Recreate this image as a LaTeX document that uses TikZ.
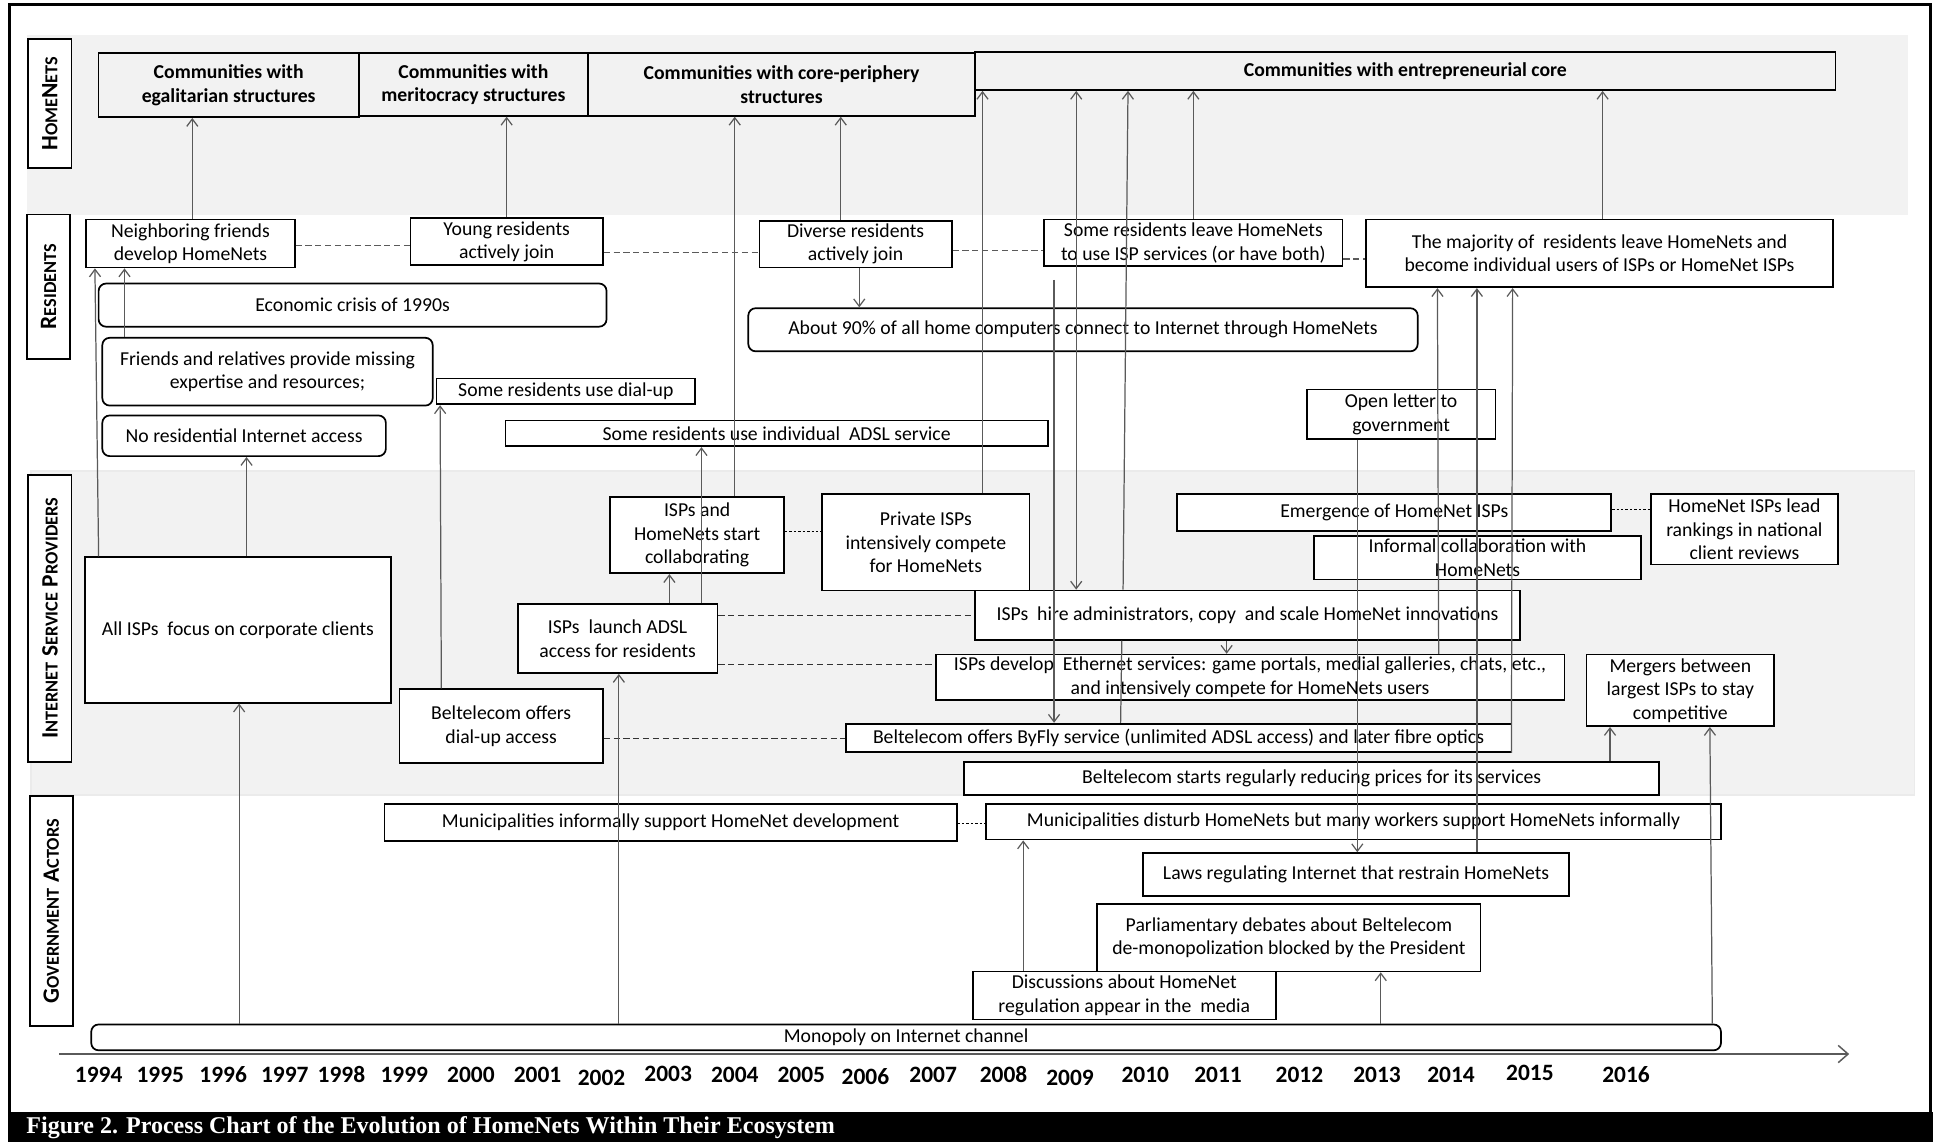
\documentclass[tikz,border=0pt]{standalone}
\usepackage{fontspec}
\setmainfont{Carlito}
\newfontfamily\capfont{Liberation Serif}
\usetikzlibrary{arrows.meta}
\definecolor{bandgray}{HTML}{F2F2F2}
\definecolor{linegray}{HTML}{5A5A5A}
\newcommand{\bx}[7][]{\node[boxbase,#1,minimum width={(#5-#3)*0.5pt},minimum height={(#6-#4)*0.5pt}] (#2) at ({(#3+#5)/2},{(#4+#6)/2}) {#7};}
\newcommand{\vc}[5][arr]{\coordinate (ca) at (#2,0);\coordinate (cb) at (#4,0);\draw[#1] (#3 -| ca) -- (#5 -| cb);}
\newcommand{\hc}[4][dsh]{\coordinate (cy) at (0,#2);\draw[#1] (#3 |- cy) -- (#4 |- cy);}
\newcommand{\Bg}[1]{{\fontsize{9.5}{10}\selectfont #1}}
\newcommand{\Sm}[1]{{\fontsize{7.4}{8}\selectfont #1}}
\begin{document}
\begin{tikzpicture}[x=0.5pt,y=-0.5pt,
  boxbase/.style={draw=black,fill=white,line width=0.7pt,inner sep=0pt,align=center,font=\fontsize{8}{9.5}\selectfont},
  head/.style={fill=bandgray,font=\bfseries\fontsize{8}{9.5}\selectfont},
  rnd/.style={rounded corners=3pt},
  lab/.style={draw=black,fill=white,line width=0.8pt,inner sep=0pt,rotate=90,font=\bfseries},
  arr/.style={draw=linegray,line width=0.5pt,-{Straight Barb[length=3pt,width=4.5pt]}},
  barr/.style={draw=linegray,line width=0.5pt,{Straight Barb[length=3pt,width=4.5pt]}-{Straight Barb[length=3pt,width=4.5pt]}},
  ln/.style={draw=linegray,line width=0.5pt},
  dsh/.style={draw=linegray,line width=0.6pt,dash pattern=on 2.5pt off 1.5pt},
  kdsh/.style={draw=black!80,line width=0.45pt,dash pattern=on 2.5pt off 1.5pt},
  fdsh/.style={draw=black,line width=0.4pt,dash pattern=on 1pt off 0.8pt},
  year/.style={font=\bfseries\fontsize{9.5}{10}\selectfont,inner sep=0pt}]
\useasboundingbox (0,0) rectangle (1568,926);
\fill[white] (0,0) rectangle (1568,926);
% bands
\fill[bandgray] (22,28) rectangle (1548,174);
\fill[bandgray] (25,382) rectangle (1553,645);
\draw[black!8,line width=0.6pt] (25,382) rectangle (1553,645);
% frame and caption
\draw[line width=1.2pt] (8,926) -- (8,4) -- (1566,4) -- (1566,926);
\fill[black] (8,902) rectangle (1568,926);
\node[anchor=west,text=white,inner sep=0pt,font=\capfont\bfseries\fontsize{9.75}{12}\selectfont] (cap) at (21,915) {Figure 2. Process Chart of the Evolution of HomeNets Within Their Ecosystem};
% lane labels
\node[lab,minimum width={(136-32)*0.5pt},minimum height={(58-23)*0.5pt}] (lhn) at (40.5,84) {\Bg{H}\Sm{OME}\Bg{N}\Sm{ETS}};
\node[lab,minimum width={(291-174)*0.5pt},minimum height={(57-22)*0.5pt}] (lres) at (39.5,232.5) {\Bg{R}\Sm{ESIDENTS}};
\node[lab,minimum width={(618-385)*0.5pt},minimum height={(58-23)*0.5pt}] (lisp) at (40.5,501.5) {\Bg{I}\Sm{NTERNET} \Bg{S}\Sm{ERVICE} \Bg{P}\Sm{ROVIDERS}};
\node[lab,minimum width={(832-646)*0.5pt},minimum height={(59-24)*0.5pt}] (lgov) at (41.5,739) {\Bg{G}\Sm{OVERNMENT} \Bg{A}\Sm{CTORS}};
% axis
\coordinate (axs) at (48,855);
\coordinate (axe) at (1500,855);
\draw[arr,line width=0.6pt,-{Straight Barb[length=4pt,width=7pt]}] (axs) -- (axe);
% years
\node[year] (y1994) at (80,872) {1994};
\node[year] (y1995) at (130,872) {1995};
\node[year] (y1996) at (181,872) {1996};
\node[year] (y1997) at (231,872) {1997};
\node[year] (y1998) at (277,872) {1998};
\node[year] (y1999) at (328,872) {1999};
\node[year] (y2000) at (382,872) {2000};
\node[year] (y2001) at (436,872) {2001};
\node[year] (y2002) at (488,874) {2002};
\node[year] (y2003) at (542,871) {2003};
\node[year] (y2004) at (596,872) {2004};
\node[year] (y2005) at (650,872) {2005};
\node[year] (y2006) at (702,873) {2006};
\node[year] (y2007) at (757,872) {2007};
\node[year] (y2008) at (814,872) {2008};
\node[year] (y2009) at (868,874) {2009};
\node[year] (y2010) at (929,872) {2010};
\node[year] (y2011) at (988,872) {2011};
\node[year] (y2012) at (1054,872) {2012};
\node[year] (y2013) at (1117,872) {2013};
\node[year] (y2014) at (1177,872) {2014};
\node[year] (y2015) at (1241,870) {2015};
\node[year] (y2016) at (1319,872) {2016};
% header boxes
\bx[head]{h1}{80}{43}{291}{95}{Communities with\\egalitarian structures}
\bx[head]{h2}{291}{43}{477}{94}{Communities with\\meritocracy structures}
\bx[head]{h3}{477}{43}{791}{94}{Communities with core-periphery\\structures}
\bx[head]{h4}{791}{42}{1489}{73}{Communities with entrepreneurial core}
% residents
\bx{r1}{70}{178}{239}{217}{Neighboring friends\\develop HomeNets}
\bx{r2}{333}{177}{489}{215}{Young residents\\actively join}
\bx{r3}{616}{179}{772}{217}{Diverse residents\\actively join}
\bx{r4}{847}{178}{1089}{216}{Some residents leave HomeNets\\to use ISP services (or have both)}
\bx{r5}{1108}{178}{1487}{233}{The majority of\ \ residents leave HomeNets and\\become individual users of ISPs or HomeNet ISPs}
\bx[rnd]{r6}{80}{230}{492}{265}{Economic crisis of 1990s}
\bx[rnd]{r7}{83}{274}{351}{329}{Friends and relatives provide missing\\expertise and resources;}
\bx{r8}{354}{307}{564}{328}{Some residents use dial-up}
\bx[rnd]{r9}{83}{337}{313}{370}{No residential Internet access}
\bx{r10}{410}{341}{850}{362}{Some residents use individual\ \ ADSL service}
\bx[rnd]{r11}{607}{250}{1150}{285}{About 90\% of all home computers connect to Internet through HomeNets}
\bx{r12}{1060}{316}{1213}{356}{Open letter to\\government}
% ISPs
\bx{i1}{69}{452}{317}{570}{All ISPs\ \ focus on corporate clients}
\bx{i2}{324}{559}{489}{619}{Beltelecom offers\\dial-up access}
\bx{i3}{420}{490}{582}{546}{ISPs\ \ launch ADSL\\access for residents}
\bx{i4}{495}{403}{636}{465}{ISPs and\\HomeNets start\\collaborating}
\bx{i5}{667}{401}{835}{479}{Private ISPs\\intensively compete\\for HomeNets}
\bx{i6}{791}{479}{1233}{519}{ISPs\ \ hire administrators, copy\ \ and scale HomeNet innovations}
\bx{i7}{759}{531}{1269}{568}{ISPs develop\ \ Ethernet services: game portals, medial galleries, chats, etc.,\\and intensively compete for HomeNets users}
\bx{i8}{686}{587}{1226}{610}{Beltelecom offers ByFly service (unlimited ADSL access) and later fibre optics}
\bx{i9}{782}{618}{1346}{645}{Beltelecom starts regularly reducing prices for its services}
\bx{i10}{955}{401}{1307}{431}{Emergence of HomeNet ISPs}
\bx{i11}{1066}{435}{1331}{470}{Informal collaboration with\\HomeNets}
\bx{i12}{1339}{401}{1491}{458}{HomeNet ISPs lead\\rankings in national\\client reviews}
\bx{i13}{1287}{531}{1439}{589}{Mergers between\\largest ISPs to stay\\competitive}
% government
\bx{g1}{312}{652}{776}{682}{Municipalities informally support HomeNet development}
\bx{g2}{800}{652}{1396}{681}{Municipalities disturb HomeNets but many workers support HomeNets informally}
\bx{g3}{927}{692}{1273}{727}{Laws regulating Internet that restrain HomeNets}
\bx{g4}{890}{733}{1201}{788}{Parliamentary debates about Beltelecom\\de-monopolization blocked by the President}
\bx{g5}{789}{788}{1035}{827}{Discussions about HomeNet\\regulation appear in the\ \ media}
\bx[rnd]{g6}{74}{831}{1396}{852}{Monopoly on Internet channel}
% dashed links
\hc{199}{r1.east}{r2.west}
\hc{205}{r2.east}{r3.west}
\hc{203}{r3.east}{r4.west}
\hc{210}{r4.east}{r5.west}
\hc[fdsh]{431}{i4.east}{i5.west}
\hc[kdsh]{499}{i3.east}{i6.west}
\hc[kdsh]{539}{i3.east}{i7.west}
\hc[kdsh]{599}{i2.east}{i8.west}
\hc[fdsh]{413}{i10.east}{i12.west}
\hc[fdsh]{668}{g1.east}{g2.west}
% arrows to headers
\vc{156}{r1.north}{156}{h1.south}
\vc{411}{r2.north}{411}{h2.south}
\vc{596}{i4.north}{596}{h3.south}
\vc{682}{r3.north}{682}{h3.south}
\vc{797}{i5.north}{797}{h4.south}
\vc[barr]{873}{i6.north}{873}{h4.south}
\vc{911}{i6.north}{915}{h4.south}
\vc[ln]{909}{i8.north}{910}{i6.south}
\vc{968}{r4.north}{968}{h4.south}
\vc{1300}{r5.north}{1300}{h4.south}
% left side arrows
\vc{80}{i1.north}{77}{r1.south}
\vc{101}{r7.north}{101}{r1.south}
\vc{200}{i1.north}{200}{r9.south}
\vc{194}{g6.north}{194}{i1.south}
\vc{358}{i2.north}{357}{r8.south}
\vc{502}{g6.north}{502}{i3.south}
\vc{543}{i3.north}{543}{i4.south}
\vc{569}{i3.north}{569}{r10.south}
\vc{697}{r3.south}{697}{r11.north}
% middle / right arrows
\coordinate (s855) at (855,227);
\draw[arr] (s855) -- (i8.north -| s855);
\vc{995}{i6.south}{995}{i7.north}
\vc{1101}{r12.south}{1101}{g3.north}
\vc{1167}{i7.north}{1166}{r5.south}
\vc{1198}{g3.north}{1198}{r5.south}
\vc{1226}{i8.south}{1227}{r5.south}
\vc{830}{g5.north}{830}{g2.south}
\vc{1120}{g6.north}{1120}{g4.south}
\vc{1389}{g6.north}{1387}{i13.south}
\vc{1306}{i9.north}{1306}{i13.south}
\end{tikzpicture}
\end{document}
